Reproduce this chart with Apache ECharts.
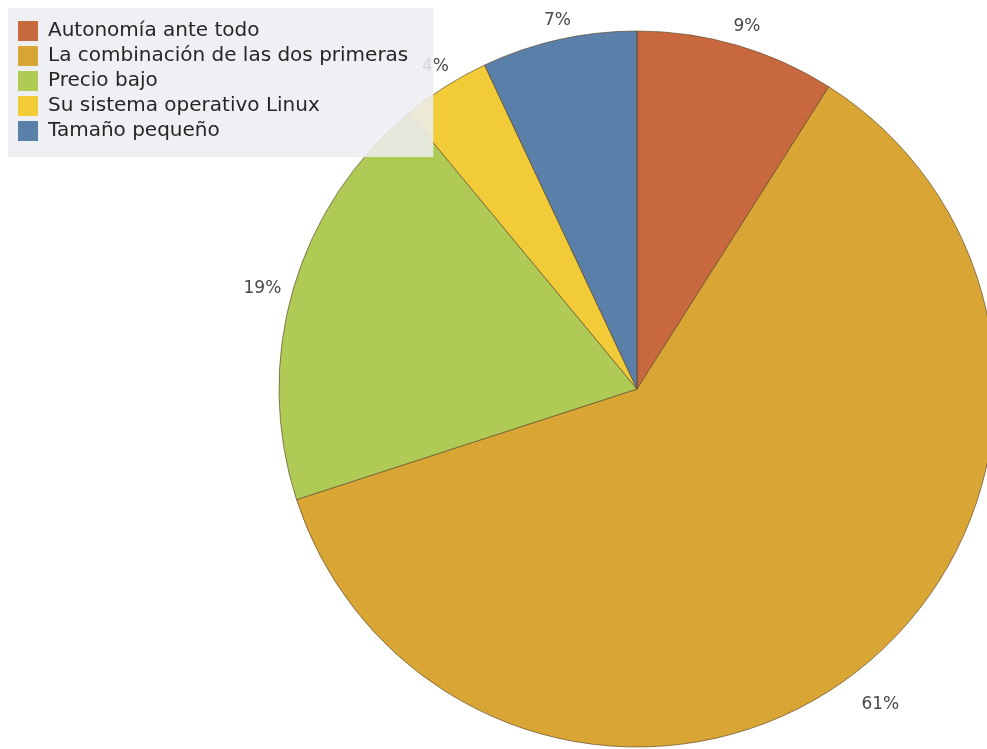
<!DOCTYPE html>
<html>
<head>
<meta charset="utf-8">
<script src="https://cdn.jsdelivr.net/npm/echarts@6/dist/echarts.min.js"></script>
<style>html,body{margin:0;padding:0;background:#fff;}#c{width:987px;height:749px;}</style>
</head>
<body>
<div id="c"></div>
<script>
var categories = ["Autonomía ante todo", "La combinación de las dos primeras", "Precio bajo", "Su sistema operativo Linux", "Tamaño pequeño"];
var values = [9, 61, 19, 4, 7];
var colors = ["#C8683F", "#D9A535", "#B0CA56", "#F1CB38", "#5A80A9"];
var labelGaps = [22, 39, 30, 24, 20];
var labelShiftX = [4, 0, -2, 3, 3];
var labelShiftY = [2, 2, 8, 0, 0];

var chart = echarts.init(document.getElementById('c'));
chart.setOption({
  animation: false,
  backgroundColor: '#ffffff',
  legend: {
    orient: 'vertical',
    left: 8,
    top: 8,
    padding: [13, 25, 16, 10],
    itemWidth: 20,
    itemHeight: 20,
    itemGap: 5,
    icon: 'rect',
    itemStyle: { borderWidth: 0 },
    backgroundColor: 'rgba(236,238,241,0.86)',
    data: categories,
    textStyle: { fontFamily: 'DejaVu Sans', fontSize: 20, lineHeight: 20, color: '#262626', padding: [0, 0, 0, 5] },
    selectedMode: false
  },
  series: [{
    type: 'pie',
    center: [637, 389],
    radius: 358,
    startAngle: 90,
    clockwise: true,
    avoidLabelOverlap: false,
    data: categories.map(function (n, i) {
      return { name: n, value: values[i], itemStyle: { color: colors[i] },
               labelLine: { length: labelGaps[i] } };
    }),
    itemStyle: { borderColor: 'rgba(90,70,40,0.65)', borderWidth: 1 },
    label: {
      show: true,
      position: 'outside',
      formatter: function (p) { return p.value + '%'; },
      fontFamily: 'DejaVu Sans',
      fontSize: 17,
      color: '#484848',
      distanceToLabelLine: 0
    },
    labelLine: { show: false, length2: 0 },
    labelLayout: function (p) {
      return { align: 'center', verticalAlign: 'middle', dx: labelShiftX[p.dataIndex], dy: labelShiftY[p.dataIndex] };
    },
    emphasis: { disabled: true }
  }]
});
</script>
</body>
</html>
